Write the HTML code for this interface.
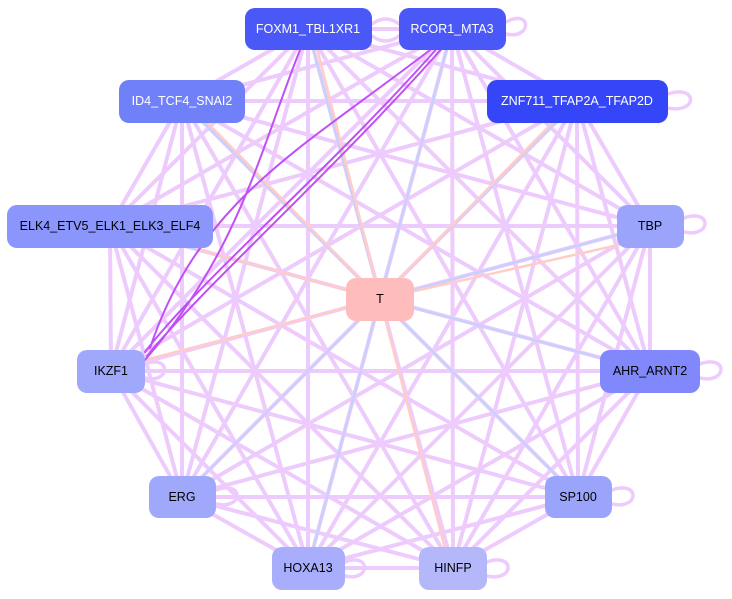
<!DOCTYPE html>
<html><head><meta charset="utf-8"><style>
body{margin:0;background:#fff;width:732px;height:599px;overflow:hidden}
svg{display:block}
text{font-family:"Liberation Sans",sans-serif;font-size:12.5px;text-anchor:middle;dominant-baseline:central}
</style></head><body>
<svg width="732" height="599" viewBox="0 0 732 599">
<g fill="none" stroke-linecap="round">
<path stroke="#eecbfd" stroke-width="4" d="
M308 29L452 29M308 29L182 101M308 29L577 101M308 29L110 226M308 29L650 226M308 29L111 371M308 29L650 371M308 29L182 497M308 29L578 497M308 29L308 568M308 29L453 568
M452 29L182 101M452 29L577 101M452 29L110 226M452 29L650 226M452 29L111 371M452 29L650 371M452 29L182 497M452 29L578 497M452 29L308 568M452 29L453 568
M182 101L577 101M182 101L110 226M182 101L650 226M182 101L111 371M182 101L650 371M182 101L182 497M182 101L578 497M182 101L308 568M182 101L453 568
M577 101L110 226M577 101L650 226M577 101L111 371M577 101L650 371M577 101L182 497M577 101L578 497M577 101L308 568M577 101L453 568
M110 226L650 226M110 226L111 371M110 226L650 371M110 226L182 497M110 226L578 497M110 226L308 568M110 226L453 568
M650 226L111 371M650 226L650 371M650 226L182 497M650 226L578 497M650 226L308 568M650 226L453 568
M111 371L650 371M111 371L182 497M111 371L578 497M111 371L308 568M111 371L453 568
M650 371L182 497M650 371L578 497M650 371L308 568M650 371L453 568
M182 497L578 497M182 497L308 568M182 497L453 568
M578 497L308 568M578 497L453 568M308 568L453 568"/>
<path stroke="#eecbfd" stroke-width="3.5" d="M372 24q14 -10 27 0M372 36q14 10 27 0M506 22c26 -14 26 18 0 12M668 94c30 -10 30 20 0 14M684 218c28 -10 28 20 0 14M700 364c28 -10 28 20 0 14M145 364c26 -10 26 20 0 14M216 490c28 -10 28 20 0 14M612 490c28 -10 28 20 0 14M345 562c26 -10 26 20 0 14M487 562c28 -10 28 20 0 14"/>
<path stroke="#c9d0fb" stroke-width="2.5" d="M380 299L308 29M380 299L452 29M380 299L182 101M380 299L110 226M380 299L650 371M380 299L578 497M380 299L182 497M380 299L308 568M380 299L650 226M380 299L577 101"/>
<path stroke="#ffccc8" stroke-width="2.5" d="M380 299L315 40M380 299L195 110M380 299L200 250M380 299L145 360M380 299L560 115M380 299L640 240M380 299L448 560"/>
<path stroke="#c050f5" stroke-width="2" d="M300 50C260 150 240 250 145 360M440 45C330 170 200 280 145 352M445 45C330 175 205 285 147 356M430 50C300 150 200 200 150 348"/>
</g>
<g>
<rect x="245" y="8" width="127" height="42" rx="10" fill="#4a58f7"/><text x="308" y="29" fill="#fff">FOXM1_TBL1XR1</text>
<rect x="399" y="8" width="107" height="42" rx="10" fill="#4a58f7"/><text x="452" y="29" fill="#fff">RCOR1_MTA3</text>
<rect x="119" y="80" width="126" height="43" rx="10" fill="#7080f8"/><text x="182" y="101" fill="#fff">ID4_TCF4_SNAI2</text>
<rect x="487" y="80" width="181" height="43" rx="10" fill="#3446f7"/><text x="577" y="101" fill="#fff">ZNF711_TFAP2A_TFAP2D</text>
<rect x="7" y="205" width="206" height="43" rx="10" fill="#8a96fb"/><text x="110" y="226" fill="#000">ELK4_ETV5_ELK1_ELK3_ELF4</text>
<rect x="617" y="205" width="67" height="43" rx="10" fill="#9aa4fb"/><text x="650" y="226" fill="#000">TBP</text>
<rect x="346" y="278" width="68" height="43" rx="10" fill="#ffbcbc"/><text x="380" y="299" fill="#000">T</text>
<rect x="77" y="350" width="68" height="43" rx="10" fill="#a0a8fb"/><text x="111" y="371" fill="#000">IKZF1</text>
<rect x="600" y="350" width="100" height="43" rx="10" fill="#8088fb"/><text x="650" y="371" fill="#000">AHR_ARNT2</text>
<rect x="149" y="476" width="67" height="42" rx="10" fill="#a0a8fb"/><text x="182" y="497" fill="#000">ERG</text>
<rect x="545" y="476" width="67" height="42" rx="10" fill="#9aa4fb"/><text x="578" y="497" fill="#000">SP100</text>
<rect x="272" y="547" width="73" height="43" rx="10" fill="#a8aefb"/><text x="308" y="568" fill="#000">HOXA13</text>
<rect x="419" y="547" width="68" height="43" rx="10" fill="#b4b8fb"/><text x="453" y="568" fill="#000">HINFP</text>
</g>
</svg>
</body></html>
